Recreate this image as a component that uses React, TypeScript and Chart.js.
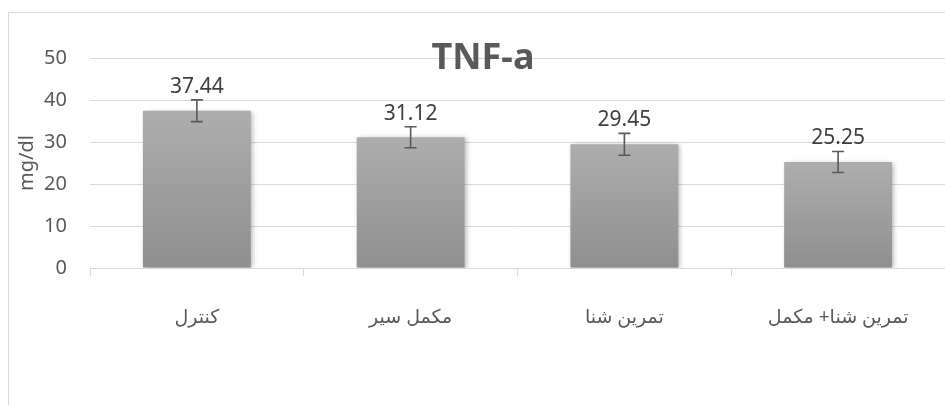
import React, { useEffect, useRef } from "react";
import { Chart, registerables } from "chart.js";

Chart.register(...registerables);

const categories: string[] = ["کنترل", "مکمل سیر", "تمرین شنا", "تمرین شنا+ مکمل"];
const values: number[] = [37.44, 31.12, 29.45, 25.25];
const errors: number[] = [2.6, 2.5, 2.6, 2.5];
const yMin = 0;
const yMax = 50;
const yStep = 10;
const chartTitle = "TNF-a";
const yAxisTitle = "mg/dl";

const FONT = "'Noto Sans', 'DejaVu Sans', sans-serif";

const shadowPlugin = {
  id: "barShadow",
  beforeDatasetsDraw(chart: any) {
    const c = chart.ctx;
    c.save();
    c.shadowColor = "rgba(0,0,0,0.28)";
    c.shadowBlur = 5;
    c.shadowOffsetX = 2;
    c.shadowOffsetY = 1;
  },
  afterDatasetsDraw(chart: any) {
    chart.ctx.restore();
  },
};

const errorAndLabelPlugin = {
  id: "errorAndLabels",
  afterDatasetsDraw(chart: any) {
    const c = chart.ctx;
    const meta = chart.getDatasetMeta(0);
    const ys = chart.scales.y;
    c.save();
    meta.data.forEach((bar: any, i: number) => {
      const x = bar.x;
      const top = ys.getPixelForValue(values[i] + errors[i]);
      const bot = ys.getPixelForValue(values[i] - errors[i]);
      c.strokeStyle = "#595959";
      c.lineWidth = 1.6;
      c.beginPath();
      c.moveTo(x, top);
      c.lineTo(x, bot);
      c.moveTo(x - 6, top);
      c.lineTo(x + 6, top);
      c.moveTo(x - 6, bot);
      c.lineTo(x + 6, bot);
      c.stroke();
      c.fillStyle = "#404040";
      c.font = `21px ${FONT}`;
      c.textAlign = "center";
      c.textBaseline = "alphabetic";
      c.fillText(values[i].toFixed(2), x, top - 7);
    });
    c.restore();
  },
};

const titlePlugin = {
  id: "customTitle",
  afterDraw(chart: any) {
    const c = chart.ctx;
    const area = chart.chartArea;
    c.save();
    c.fillStyle = "#595959";
    c.font = `bold 36px ${FONT}`;
    c.textAlign = "center";
    c.textBaseline = "middle";
    c.fillText(chartTitle, chart.width / 2 + 6, area.top + 1);
    c.restore();
  },
};

export default function App() {
  const ref = useRef<HTMLCanvasElement | null>(null);

  useEffect(() => {
    if (!ref.current) return;
    const chart = new Chart(ref.current, {
      type: "bar",
      data: {
        labels: categories,
        datasets: [
          {
            data: values,
            backgroundColor: (ctx: any) => {
              const ch = ctx.chart;
              if (!ch.chartArea || ctx.type !== "data") return "#a0a0a0";
              const ys = ch.scales.y;
              const yTop = ys.getPixelForValue(values[ctx.dataIndex]);
              const yBot = ys.getPixelForValue(0);
              const g = ch.ctx.createLinearGradient(0, yTop, 0, yBot);
              g.addColorStop(0, "#adadad");
              g.addColorStop(1, "#8f8f8f");
              return g;
            },
            borderWidth: 0,
            barPercentage: 1,
            categoryPercentage: 0.505,
          },
        ],
      },
      options: {
        responsive: false,
        animation: false,
        devicePixelRatio: 1,
        layout: { padding: { top: 45, right: 0, bottom: 67, left: 0 } },
        plugins: {
          legend: { display: false },
          title: { display: false },
          tooltip: { enabled: false },
        },
        scales: {
          x: {
            grid: {
              display: true,
              drawOnChartArea: false,
              drawTicks: true,
              tickLength: 8,
              color: "#d9d9d9",
              offset: true,
            },
            border: { display: true, color: "#d9d9d9", width: 1 },
            ticks: {
              color: "#595959",
              font: { family: FONT, size: 19 },
              padding: 30,
              maxRotation: 0,
              autoSkip: false,
            },
            afterFit: (scale: any) => {
              scale.height = 70;
            },
          },
          y: {
            min: yMin,
            max: yMax,
            ticks: {
              stepSize: yStep,
              color: "#595959",
              font: { family: FONT, size: 20 },
              padding: 23,
            },
            grid: { color: "#d9d9d9", drawTicks: false, lineWidth: 1 },
            border: { display: false },
            title: {
              display: true,
              text: yAxisTitle,
              color: "#595959",
              font: { family: FONT, size: 20 },
              padding: { top: 6, bottom: 0 },
            },
            afterFit: (scale: any) => {
              scale.width = 81;
            },
          },
        },
      },
      plugins: [shadowPlugin, errorAndLabelPlugin, titlePlugin],
    } as any);
    return () => chart.destroy();
  }, []);

  return (
    <div
      style={{
        position: "fixed",
        left: 8,
        top: 12,
        width: 937,
        height: 393,
        borderLeft: "1px solid #d9d9d9",
        borderTop: "1px solid #d9d9d9",
        background: "#ffffff",
        boxSizing: "border-box",
      }}
    >
      <canvas ref={ref} width={936} height={392} style={{ display: "block" }} />
    </div>
  );
}
